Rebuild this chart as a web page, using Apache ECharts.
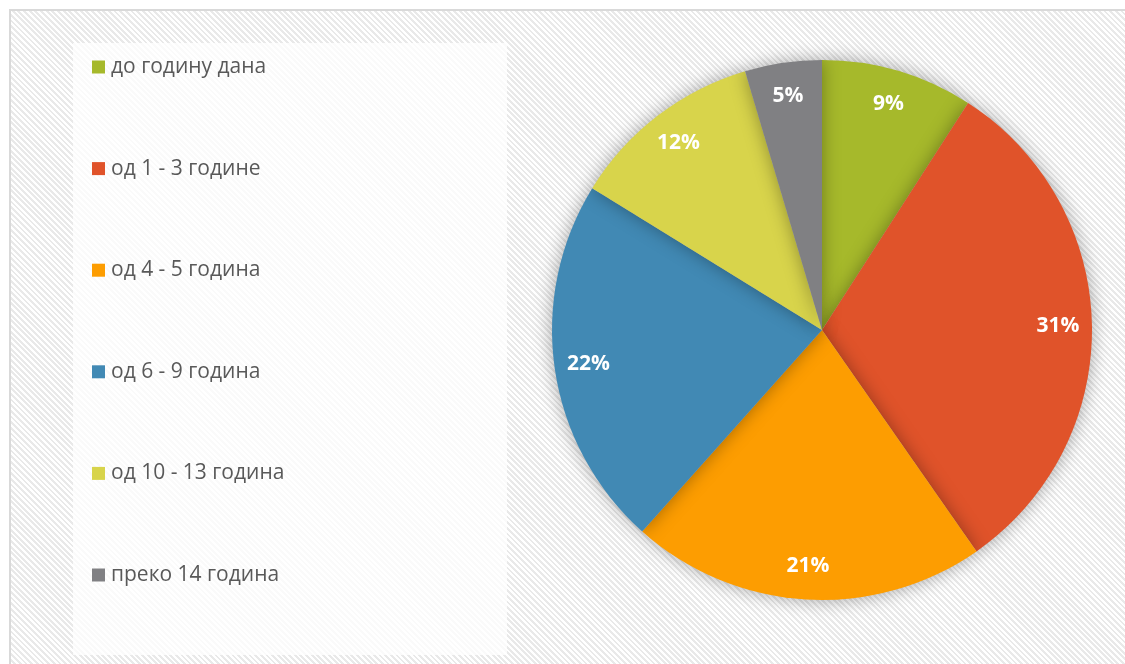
<!DOCTYPE html>
<html><head><meta charset="utf-8">
<script src="https://cdn.jsdelivr.net/npm/echarts@6/dist/echarts.min.js"></script>
<style>
html,body{margin:0;padding:0;background:#fff;width:1125px;height:664px;overflow:hidden;}
#frame{position:absolute;left:9px;top:9px;width:1130px;height:670px;border:2px solid #d9d9d9;
background:repeating-linear-gradient(45deg,#ffffff 0px,#ffffff 2px,#e9e9e9 2px,#e9e9e9 4px);}
#chart{position:absolute;left:0;top:0;width:1125px;height:664px;}
</style></head>
<body>
<div id="frame"></div>
<div id="chart"></div>
<script>
const categories = ['до годину дана','од 1 - 3 године','од 4 - 5 година','од 6 - 9 година','од 10 - 13 година','преко 14 година'];
const values = [9.1, 31.2, 21.3, 22.2, 11.6, 4.6];
const colors = ['#A6B92B','#E0532A','#FD9D01','#4189B4','#D8D44B','#808083'];

const data = categories.map((c,i)=>({name:c, value:values[i], itemStyle:{color:colors[i]}}));
const total = values.reduce((a,b)=>a+b,0);
const chart = echarts.init(document.getElementById('chart'));
chart.setOption({
  backgroundColor:'transparent',
  animation:false,
  graphic:[{type:'rect', left:73, top:43, shape:{width:434,height:612}, style:{fill:'rgba(255,255,255,0.75)'}, z:-10}],
  legend:{
    orient:'vertical', left:92, top:56, padding:0, itemWidth:13, itemHeight:13, itemGap:79.6,
    icon:'rect', data:categories,
    textStyle:{fontFamily:'Open Sans', fontSize:21, color:'#595959', lineHeight:22, padding:[0,0,0,1]}
  },
  series:[
    {type:'pie', center:[822,330], radius:[0,270], startAngle:90, clockwise:true,
     data:data, label:{show:false}, labelLine:{show:false},
     itemStyle:{shadowBlur:18, shadowColor:'rgba(0,0,0,0.35)'}, emphasis:{disabled:true}},
    {type:'pie', center:[822,330], radius:[196,270], startAngle:90, clockwise:true, silent:true,
     data:categories.map((c,i)=>({name:c, value:values[i]})),
     itemStyle:{color:'rgba(0,0,0,0)'},
     label:{show:true, position:'inside', color:'#fff', fontFamily:'Open Sans', fontWeight:'bold', fontSize:21,
       formatter:p=>Math.round(p.value/total*100)+'%'},
     labelLine:{show:false}, emphasis:{disabled:true}}
  ]
});
</script>
</body></html>
